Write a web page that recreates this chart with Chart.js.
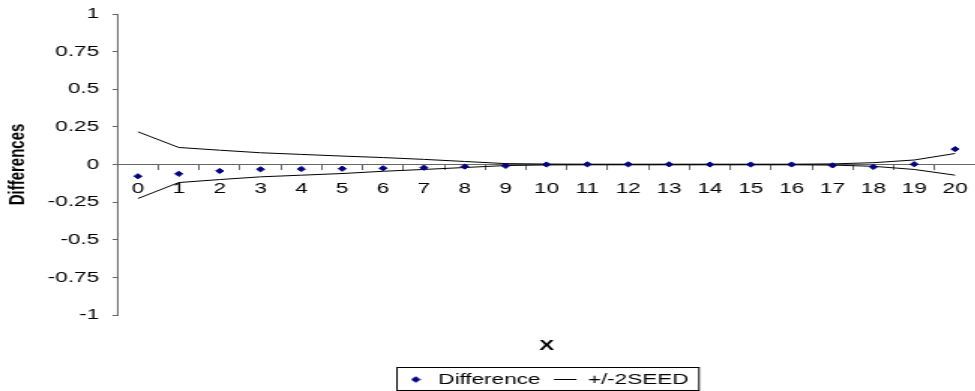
<!DOCTYPE html>
<html>
<head>
<meta charset="utf-8">
<script src="https://cdn.jsdelivr.net/npm/chart.js@4"></script>
<style>
    html, body { margin: 0; padding: 0; background: #fff; overflow: hidden; }
    #chart { display: block; }
</style>
</head>
<body>
<!-- le graphique d'origine est étiré horizontalement : on étire le canvas pareil -->
<canvas id="chart" width="655" height="397" style="width: 982.5px; height: 397px;"></canvas>
<script>
// --- DONNEES ---
const xLabels = ['0', '1', '2', '3', '4', '5', '6', '7', '8', '9', '10',
    '11', '12', '13', '14', '15', '16', '17', '18', '19', '20'];
const difference = [-0.078, -0.062, -0.043, -0.032, -0.030, -0.028, -0.025, -0.021, -0.014, -0.009, 0.000,
    0.001, 0.001, 0.001, 0.000, 0.000, 0.000, -0.006, -0.016, 0.002, 0.102];
const upperSeed = [0.217, 0.113, 0.095, 0.078, 0.067, 0.056, 0.046, 0.034, 0.020, 0.006, 0.003,
    0.002, 0.002, 0.002, 0.002, 0.002, 0.002, 0.004, 0.012, 0.030, 0.073];
const lowerSeed = [-0.226, -0.120, -0.100, -0.082, -0.071, -0.060, -0.045, -0.033, -0.020, -0.007, -0.003,
    -0.002, -0.002, -0.002, -0.002, -0.002, -0.002, -0.004, -0.012, -0.033, -0.071];
const yMin = -1, yMax = 1, yStep = 0.25;

Chart.defaults.font.family = "'Liberation Sans', Arial, sans-serif";
Chart.defaults.color = '#000';

// petit losange pour la légende (taille fixe)
const diamond = document.createElement('canvas');
diamond.width = 7;
diamond.height = 7;
(function () {
    const c = diamond.getContext('2d');
    c.fillStyle = '#000080';
    c.beginPath();
    c.moveTo(3.5, 0.3);
    c.lineTo(6.7, 3.5);
    c.lineTo(3.5, 6.7);
    c.lineTo(0.3, 3.5);
    c.closePath();
    c.fill();
})();

// cadre autour de la légende
const legendFrame = {
    id: 'legendFrame',
    afterDraw(chart) {
        const hb = chart.legend.legendHitBoxes;
        if (!hb || !hb.length) return;
        const last = hb[hb.length - 1];
        const cy = hb[0].top + hb[0].height / 2;
        const ctx = chart.ctx;
        ctx.save();
        ctx.strokeStyle = '#000';
        ctx.lineWidth = 1;
        ctx.strokeRect(hb[0].left - 5, cy - 12, last.left + last.width + 7 - (hb[0].left - 5), 23);
        ctx.restore();
    }
};

const ctx = document.getElementById('chart').getContext('2d');
new Chart(ctx, {
    type: 'line',
    data: {
        labels: xLabels,
        datasets: [{
            label: 'Difference',
            data: difference,
            showLine: false,
            pointStyle: 'rectRot',
            pointRadius: 2.6,
            pointBorderWidth: 1,
            backgroundColor: '#000080',
            borderColor: '#000080',
            borderWidth: 1
        }, {
            label: '+/-2SEED',
            data: upperSeed,
            borderColor: '#000',
            backgroundColor: '#000',
            borderWidth: 1,
            pointRadius: 0,
            pointStyle: 'line',
            tension: 0
        }, {
            label: 'lower',
            data: lowerSeed,
            borderColor: '#000',
            backgroundColor: '#000',
            borderWidth: 1,
            pointRadius: 0,
            pointStyle: 'line',
            tension: 0
        }]
    },
    options: {
        responsive: false,
        animation: false,
        devicePixelRatio: 1,
        layout: { padding: { top: 14, right: 0, bottom: 0, left: 0 } },
        scales: {
            x: {
                type: 'category',
                position: { y: 0 },
                offset: true,
                grid: { offset: true, drawOnChartArea: false, drawTicks: true, tickLength: 5, color: '#666' },
                border: { display: true, color: '#666' },
                ticks: { font: { size: 15 }, padding: 10, maxRotation: 0, autoSkip: false, color: '#000' },
                afterFit: scale => { scale.paddingLeft = 0; scale.paddingRight = 0; scale.paddingTop = 0; scale.paddingBottom = 0; }
            },
            y: {
                position: 'left',
                min: yMin,
                max: yMax,
                grid: { drawOnChartArea: false, tickLength: 3.3, color: '#666' },
                border: { display: true, color: '#666' },
                ticks: { stepSize: yStep, font: { size: 15 }, padding: 9, color: '#000', callback: v => String(v) },
                title: { display: true, text: 'Differences', font: { size: 15, weight: 'bold' }, padding: { top: 3, bottom: 0 }, color: '#000' },
                afterFit: scale => { scale.width = 78.3; scale.paddingTop = 0; scale.paddingBottom = 0; }
            }
        },
        plugins: {
            title: {
                display: true,
                text: 'X',
                position: 'bottom',
                fullSize: false,
                weight: 500,
                font: { size: 15, weight: 'bold' },
                color: '#000',
                padding: { top: 22, bottom: 8 }
            },
            legend: {
                display: true,
                position: 'bottom',
                fullSize: false,
                weight: 1000,
                labels: {
                    usePointStyle: true,
                    pointStyleWidth: 15,
                    boxHeight: 4,
                    padding: 9,
                    font: { size: 15 },
                    color: '#000',
                    filter: item => item.datasetIndex !== 2,
                    generateLabels: chart => {
                        const items = Chart.defaults.plugins.legend.labels.generateLabels(chart);
                        items[0].pointStyle = diamond;
                        return items;
                    }
                }
            },
            tooltip: { enabled: false }
        }
    },
    plugins: [legendFrame]
});
</script>
</body>
</html>
